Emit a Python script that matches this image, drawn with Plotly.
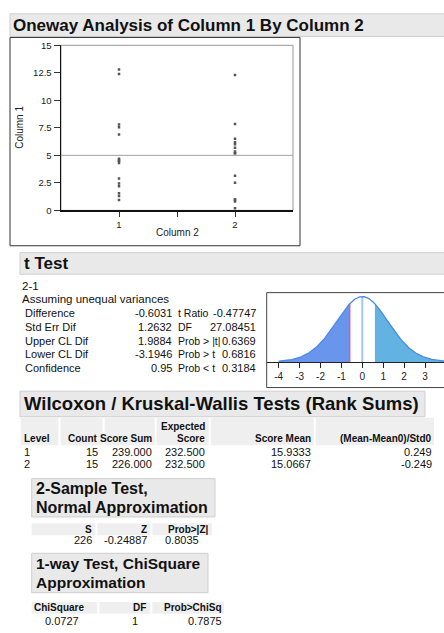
import math
import plotly.graph_objects as go

W, H = 444, 633

# ---------------- data ----------------
group_labels = ["1", "2"]
column1_group1 = [12.8, 12.4, 7.8, 7.55, 6.9, 4.7, 4.5, 4.5, 4.3, 2.9, 2.45, 2.2, 1.55, 1.3, 0.95]
column1_group2 = [12.3, 7.85, 6.5, 6.2, 6.0, 5.7, 5.35, 5.2, 5.2, 3.15, 2.5, 1.0, 1.0, 0.8, 0.2]
mean_line_value = 5.0
y_tick_values = [0, 2.5, 5, 7.5, 10, 12.5, 15]
y_tick_labels = ["0", "2.5", "5", "7.5", "10", "12.5", "15"]

ttest_difference = -0.6031
ttest_std_err = 1.2632
ttest_df = 27.08451
curve_ticks = [-4, -3, -2, -1, 0, 1, 2, 3]
curve_tick_labels = ["-4", "-3", "-2", "-1", "0", "1", "2", "3"]

ttest_rows = [
    ("Difference", "-0.6031", "t Ratio", "-0.47747"),
    ("Std Err Dif", "1.2632", "DF", "27.08451"),
    ("Upper CL Dif", "1.9884", "Prob > |t|", "0.6369"),
    ("Lower CL Dif", "-3.1946", "Prob > t", "0.6816"),
    ("Confidence", "0.95", "Prob < t", "0.3184"),
]

wilcoxon_headers_top = ["", "", "", "Expected", "", ""]
wilcoxon_headers = ["Level", "Count", "Score Sum", "Score", "Score Mean", "(Mean-Mean0)/Std0"]
wilcoxon_rows = [
    ["1", "15", "239.000", "232.500", "15.9333", "0.249"],
    ["2", "15", "226.000", "232.500", "15.0667", "-0.249"],
]

two_sample_headers = ["S", "Z", "Prob>|Z|"]
two_sample_values = ["226", "-0.24887", "0.8035"]

chisq_headers = ["ChiSquare", "DF", "Prob>ChiSq"]
chisq_values = ["0.0727", "1", "0.7875"]

# ---------------- helpers ----------------
FONT = "Liberation Sans, Arial, Helvetica, sans-serif"


def X(px):
    return px / W


def Y(py):
    return 1 - py / H


annotations = []
shapes = []


def text(x, y, s, size=11, bold=False, xanchor="left", color="#111"):
    annotations.append(dict(
        x=X(x), y=Y(y), xref="paper", yref="paper", text=s, showarrow=False,
        xanchor=xanchor, yanchor="middle",
        font=dict(family=FONT, size=size, color=color, weight="bold" if bold else "normal"),
        borderpad=0,
    ))


def rect(x0, y0, x1, y1, fill="rgba(0,0,0,0)", line="#333", lw=1, layer="below"):
    shapes.append(dict(
        type="rect", xref="paper", yref="paper",
        x0=X(x0), x1=X(x1), y0=Y(y1), y1=Y(y0),
        fillcolor=fill, line=dict(color=line, width=lw), layer=layer,
    ))


def hline(x0, x1, y, color="#333", lw=1):
    shapes.append(dict(type="line", xref="paper", yref="paper",
                       x0=X(x0), x1=X(x1), y0=Y(y), y1=Y(y),
                       line=dict(color=color, width=lw)))


def vline(x, y0, y1, color="#333", lw=1):
    shapes.append(dict(type="line", xref="paper", yref="paper",
                       x0=X(x), x1=X(x), y0=Y(y0), y1=Y(y1),
                       line=dict(color=color, width=lw)))


BAND = "#e9e9e9"
BAND_LINE = "#cfcfcf"
CELL = "#efefef"
BODY = 11.5
TT = 10.5
HB = 10

fig = go.Figure()

# ---------------- title band ----------------
rect(10, 8, 446, 31, fill=BAND, line=BAND_LINE)
text(12, 20, "Oneway Analysis of Column 1 By Column 2", size=17, bold=True)

# ---------------- scatter plot ----------------
rect(10, 32, 300, 244, line="#333", lw=1)
PL, PR, PT, PB = 61, 293, 40, 208
rect(PL, PT, PR, PB, line="#999", lw=1)

fig.add_trace(go.Scatter(
    x=[1] * len(column1_group1) + [2] * len(column1_group2),
    y=column1_group1 + column1_group2,
    mode="markers",
    marker=dict(symbol="square", size=2.5, color="#555"),
    xaxis="x", yaxis="y", hoverinfo="skip",
))
fig.add_trace(go.Scatter(
    x=[0.5, 2.5], y=[mean_line_value, mean_line_value], mode="lines",
    line=dict(color="#a0a0a0", width=1), xaxis="x", yaxis="y", hoverinfo="skip",
))

annotations.append(dict(
    x=X(20), y=Y(124), xref="paper", yref="paper", text="Column 1", showarrow=False,
    textangle=-90, xanchor="center", yanchor="middle",
    font=dict(family=FONT, size=10, color="#222"),
))
text(177, 231, "Column 2", size=10, xanchor="center", color="#222")

# ---------------- t Test ----------------
rect(20, 251, 446, 273, fill=BAND, line=BAND_LINE)
text(23, 262, "t Test", size=17, bold=True)
text(21, 285, "2-1", size=BODY)
text(21, 298, "Assuming unequal variances", size=BODY)
row_y0, row_dy = 312.5, 14
for i, (lab, val, slab, sval) in enumerate(ttest_rows):
    yy = row_y0 + i * row_dy
    text(24, yy, lab, size=TT + 0.5)
    text(173, yy, val, size=TT + 0.5, xanchor="right")
    text(177, yy, slab, size=TT)
    text(257, yy, sval, size=TT + 0.5, xanchor="right")

# distribution curve
c = math.gamma((ttest_df + 1) / 2) / (math.sqrt(ttest_df * math.pi) * math.gamma(ttest_df / 2))


def tpdf(v):
    t = v / ttest_std_err
    return c * (1 + t * t / ttest_df) ** (-(ttest_df + 1) / 2) / ttest_std_err


CX0, CX1 = -4.0, 3.95
n = 400
xs = [CX0 + (CX1 - CX0) * k / n for k in range(n + 1)]
peak = tpdf(0)

left_x = [v for v in xs if v <= ttest_difference] + [ttest_difference]
right_x = [-ttest_difference] + [v for v in xs if v >= -ttest_difference]
fig.add_trace(go.Scatter(x=left_x, y=[tpdf(v) for v in left_x], fill="tozeroy",
                         fillcolor="#6a95ec", line=dict(width=0), mode="lines",
                         xaxis="x2", yaxis="y2", hoverinfo="skip"))
fig.add_trace(go.Scatter(x=right_x, y=[tpdf(v) for v in right_x], fill="tozeroy",
                         fillcolor="#62b2e2", line=dict(width=0), mode="lines",
                         xaxis="x2", yaxis="y2", hoverinfo="skip"))
fig.add_trace(go.Scatter(x=[0, 0], y=[0, peak], mode="lines",
                         line=dict(color="#a8c6f4", width=2), xaxis="x2", yaxis="y2", hoverinfo="skip"))
fig.add_trace(go.Scatter(x=[ttest_difference, ttest_difference], y=[0, tpdf(ttest_difference)],
                         mode="lines", line=dict(color="#e2607e", width=1.5),
                         xaxis="x2", yaxis="y2", hoverinfo="skip"))
fig.add_trace(go.Scatter(x=xs, y=[tpdf(v) for v in xs], mode="lines",
                         line=dict(color="#4a8ae6", width=1.3), xaxis="x2", yaxis="y2", hoverinfo="skip"))

BX0, BT, BB = 266.7, 291.7, 388.3
CAX = 362.3
hline(BX0, 446, BT, color="#444")
hline(BX0, 446, BB, color="#444")
vline(BX0, BT, BB, color="#444")
px_per_unit = 20.9
x0_px = 362.3
curve_range = [(BX0 - x0_px) / px_per_unit, (W - x0_px) / px_per_unit]

# ---------------- Wilcoxon ----------------
rect(20, 392, 425, 418, fill=BAND, line=BAND_LINE)
text(23, 405, "Wilcoxon / Kruskal-Wallis Tests (Rank Sums)", size=18.5, bold=True)
cells = [(20.7, 58.3), (60.7, 102.7), (104.7, 154.7), (156.7, 208.7), (210.7, 313.7), (315.7, 434)]
for (a, b) in cells:
    rect(a, 419, b, 447, fill=CELL, line=CELL, lw=0)
col_right = [None, 98.5, 152.7, 206, 311.7, 432.7]
for j, hdr in enumerate(wilcoxon_headers):
    if j == 0:
        text(22.7, 440, hdr, size=HB, bold=True)
    else:
        text(col_right[j], 440, hdr, size=HB, bold=True, xanchor="right")
    if wilcoxon_headers_top[j]:
        text(col_right[j], 428, wilcoxon_headers_top[j], size=HB, bold=True, xanchor="right")
for i, row in enumerate(wilcoxon_rows):
    yy = 454 + i * 12
    for j, v in enumerate(row):
        if j == 0:
            text(22.7, yy, v, size=11)
        else:
            text(col_right[j], yy, v, size=11, xanchor="right")

# ---------------- 2-sample test ----------------
rect(31.7, 481, 215, 520, fill=BAND, line=BAND_LINE)
text(35, 491.5, "2-Sample Test,", size=16, bold=True)
text(35, 510.5, "Normal Approximation", size=16, bold=True)
ts_cells = [(31.7, 95.3), (97.3, 150.3), (152.3, 212)]
for (a, b) in ts_cells:
    rect(a, 526.5, b, 538.5, fill=CELL, line=CELL, lw=0)
ts_hdr_right = [93.3, 148.3, 210]
ts_val_right = [93.3, 148.3, 200]
for j in range(3):
    text(ts_hdr_right[j], 532.5, two_sample_headers[j], size=HB, bold=True, xanchor="right")
    text(ts_val_right[j], 543, two_sample_values[j], size=11, xanchor="right")

# ---------------- 1-way chi square ----------------
rect(31.7, 557, 208, 597, fill=BAND, line=BAND_LINE)
text(35, 567, "1-way Test, ChiSquare", size=15.5, bold=True)
text(35, 587, "Approximation", size=15.5, bold=True)
cs_cells = [(31.7, 97.3), (99.3, 150.3), (152.3, 224)]
for (a, b) in cs_cells:
    rect(a, 606.5, b, 618.5, fill=CELL, line=CELL, lw=0)
text(33.3, 612.5, chisq_headers[0], size=HB, bold=True)
text(147.3, 612.5, chisq_headers[1], size=HB, bold=True, xanchor="right")
text(222.7, 612.5, chisq_headers[2], size=HB, bold=True, xanchor="right")
text(61.7, 625.5, chisq_values[0], size=11, xanchor="center")
text(135, 625.5, chisq_values[1], size=11, xanchor="center")
text(222.7, 625.5, chisq_values[2], size=11, xanchor="right")

# ---------------- layout ----------------
fig.update_layout(
    width=W, height=H,
    margin=dict(l=0, r=0, t=0, b=0),
    paper_bgcolor="white", plot_bgcolor="rgba(0,0,0,0)",
    showlegend=False,
    font=dict(family=FONT, color="#111"),
    xaxis=dict(domain=[X(PL), X(PR)], range=[0.5, 2.5], anchor="y",
               tickvals=[1, 1.5, 2], ticktext=[group_labels[0], "", group_labels[1]],
               ticks="outside", ticklen=5, tickcolor="#333", tickfont=dict(size=9.5, color="#222"),
               showline=True, linecolor="#111", linewidth=1.5, showgrid=False, zeroline=False,
               fixedrange=True),
    yaxis=dict(domain=[Y(PB), Y(PT)], range=[0, 15], anchor="x",
               tickvals=y_tick_values, ticktext=y_tick_labels,
               ticks="outside", ticklen=6, tickcolor="#333", tickfont=dict(size=9.5, color="#222"),
               showline=True, linecolor="#111", linewidth=1.5, showgrid=False, zeroline=False,
               fixedrange=True),
    xaxis2=dict(domain=[X(BX0), 1], range=curve_range, anchor="y2",
                tickvals=curve_ticks, ticktext=curve_tick_labels,
                ticks="outside", ticklen=5, tickcolor="#222",
                tickfont=dict(size=10, color="#222"),
                showline=True, linecolor="#222", linewidth=1, showgrid=False, zeroline=False,
                fixedrange=True),
    yaxis2=dict(domain=[Y(CAX), Y(BT)], range=[0, peak * (CAX - BT) / (CAX - 295.7)],
                anchor="x2", visible=False, fixedrange=True),
    shapes=shapes,
    annotations=annotations,
)

fig.write_html(
    "out.html",
    config={"displayModeBar": False, "staticPlot": True},
    post_script="document.body.style.margin='0px';document.body.style.overflow='hidden';",
)
